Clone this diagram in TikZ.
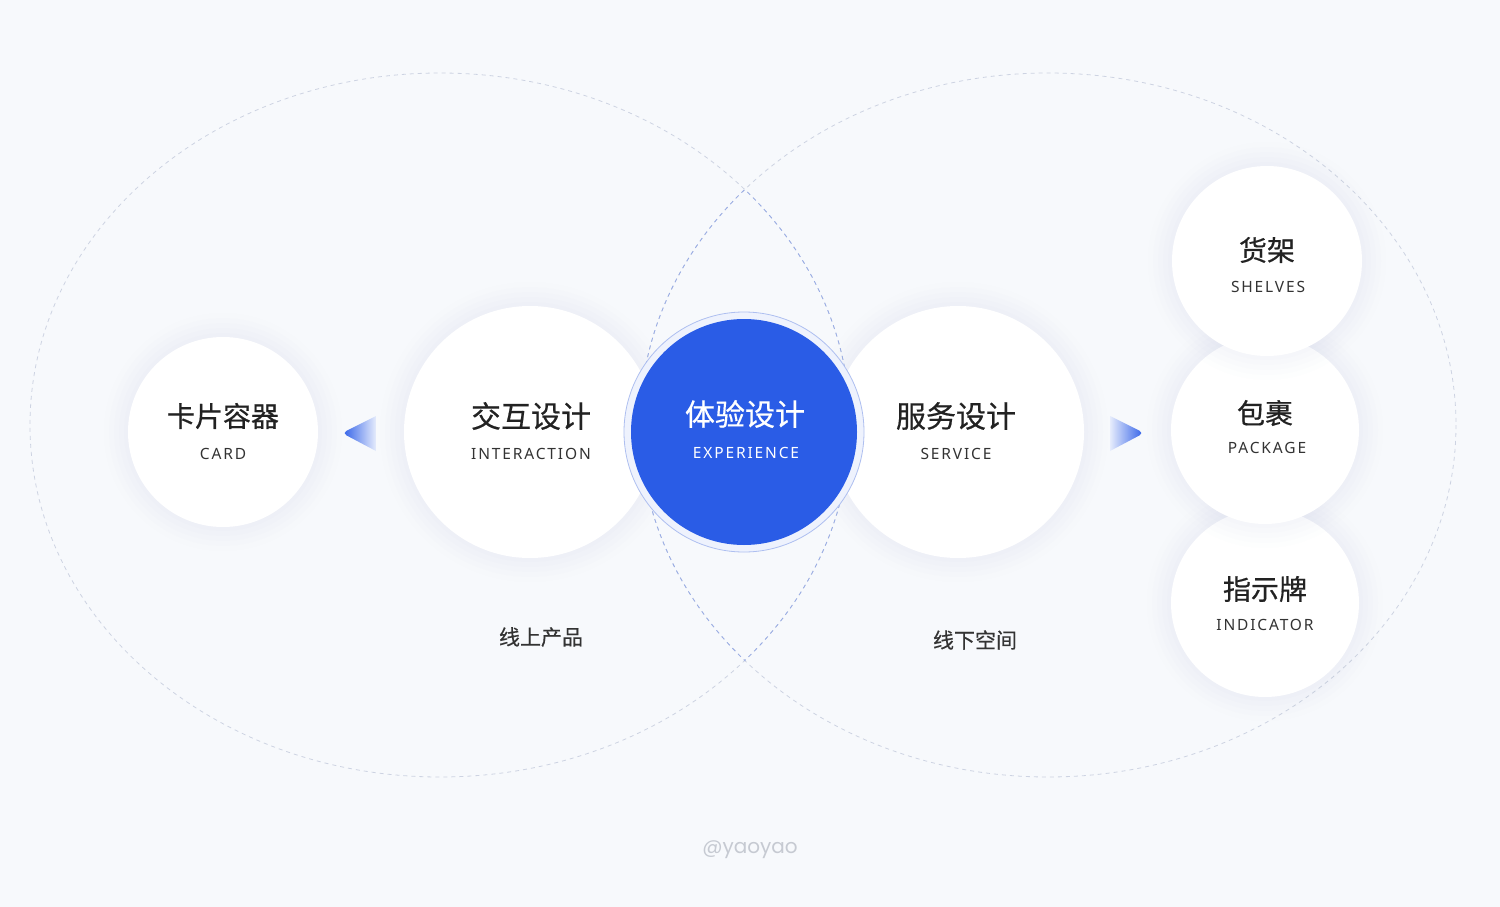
\documentclass[tikz,border=0pt]{standalone}
\usepackage{fontspec}
\usepackage{tikz}
\newfontfamily\cjk[FakeBold=0.5]{Noto Sans CJK SC}
\newfontfamily\enfont[LetterSpace=12]{Noto Sans}
\newfontfamily\tagfont{Poppins}
\definecolor{bg}{HTML}{F7F9FC}
\definecolor{ink}{HTML}{222222}
\definecolor{inkb}{HTML}{333333}
\definecolor{haloc}{HTML}{A4AFCD}
\definecolor{dashout}{HTML}{CDD3E2}
\definecolor{dashin}{HTML}{98ACE6}
\definecolor{core}{HTML}{2A5CE6}
\definecolor{ringc}{HTML}{AEBFF0}
\definecolor{ringf}{HTML}{EEF2FD}
\definecolor{tipc}{HTML}{2F5FE8}
\definecolor{tipf}{HTML}{E6ECFC}
\definecolor{sig}{HTML}{C6CAD2}
\tikzset{every picture/.style={line width=0.8pt}}
\tikzset{
  halo/.style={preaction={draw=haloc, draw opacity=0.012, line width=48pt},
               preaction={draw=haloc, draw opacity=0.014, line width=38pt},
               preaction={draw=haloc, draw opacity=0.016, line width=28pt},
               preaction={draw=haloc, draw opacity=0.018, line width=18pt},
               preaction={draw=haloc, draw opacity=0.02, line width=8pt}},
  bubble/.style={circle, fill=white, inner sep=0pt, halo},
  cn/.style={inner sep=0pt, text=ink, font=\cjk\fontsize{30}{30}\selectfont},
  cnsmall/.style={cn, font=\cjk\fontsize{28}{28}\selectfont},
  en/.style={inner sep=0pt, text=inkb, font=\enfont\fontsize{15.5}{16}\selectfont},
  note/.style={inner sep=0pt, text=inkb, font=\cjk\fontsize{21}{21}\selectfont},
  dashgray/.style={draw=dashout, dash pattern=on 4pt off 4pt},
  dashblue/.style={draw=dashin, dash pattern=on 4pt off 4pt},
}

\begin{document}
\begin{tikzpicture}[x=1pt,y=1pt,yscale=-1,xscale=1]
    \useasboundingbox (0,0) rectangle (1500,907);
    \fill[bg] (0,0) rectangle (1500,907);
    % two dashed fields, bluer where they overlap
    \draw[dashgray] (440,425) ellipse [x radius=410, y radius=352];
    \draw[dashgray] (1048,425) ellipse [x radius=408, y radius=352];
    \begin{scope}
    \clip (1048,425) ellipse [x radius=408, y radius=352];
    \draw[dashblue] (440,425) ellipse [x radius=410, y radius=352];
    \end{scope}
    \begin{scope}
    \clip (440,425) ellipse [x radius=410, y radius=352];
    \draw[dashblue] (1048,425) ellipse [x radius=408, y radius=352];
    \end{scope}
    % bubbles
    \node[bubble, minimum size=190pt] (card) at (223,432) {};
    \node[bubble, minimum size=252pt] (inter) at (530,432) {};
    \node[bubble, minimum size=252pt] (serv) at (958,432) {};
    \node[bubble, minimum size=188pt] (indicator) at (1265,603) {};
    \node[bubble, minimum size=188pt] (package) at (1265,430) {};
    \node[bubble, minimum size=190pt] (shelves) at (1267,261) {};
    \node[circle, draw=ringc, fill=ringf, minimum size=240pt, inner sep=0pt] (ring) at (744,432) {};
    \node[circle, fill=core, minimum size=226pt, inner sep=0pt] (exp) at (744,432) {};
    % arrows
    \shade[left color=tipc, right color=tipf] (376,416) [rounded corners=5pt] -- (342,433) [sharp corners] -- (376,451) -- cycle;
    \shade[right color=tipc, left color=tipf] (1110,416) [rounded corners=5pt] -- (1144,433) [sharp corners] -- (1110,451) -- cycle;
    % labels
    \node[cnsmall] (cardcn) at (223,416) {卡片容器};
    \node[en] (carden) at (223,454) {CARD};
    \node[cn] (intercn) at (531,416) {交互设计};
    \node[en] (interen) at (531,454) {INTERACTION};
    \node[cn, text=white] (expcn) at (745,414) {体验设计};
    \node[en, text=white] (expen) at (746,453) {EXPERIENCE};
    \node[cn] (servcn) at (956,416) {服务设计};
    \node[en] (serven) at (956,454) {SERVICE};
    \node[cnsmall] (shelvescn) at (1267,250) {货架};
    \node[en] (shelvesen) at (1268,287) {SHELVES};
    \node[cnsmall] (packagecn) at (1265,413) {包裹};
    \node[en] (packageen) at (1267,448) {PACKAGE};
    \node[cnsmall] (indicatorcn) at (1265,589) {指示牌};
    \node[en] (indicatoren) at (1265,625) {INDICATOR};
    \node[note] (online) at (541,637) {线上产品};
    \node[note] (offline) at (975,640) {线下空间};
    \node[inner sep=0pt, text=sig, font=\tagfont\fontsize{20}{20}\selectfont] (sign) at (750,850) {@yaoyao};
\end{tikzpicture}
\end{document}
